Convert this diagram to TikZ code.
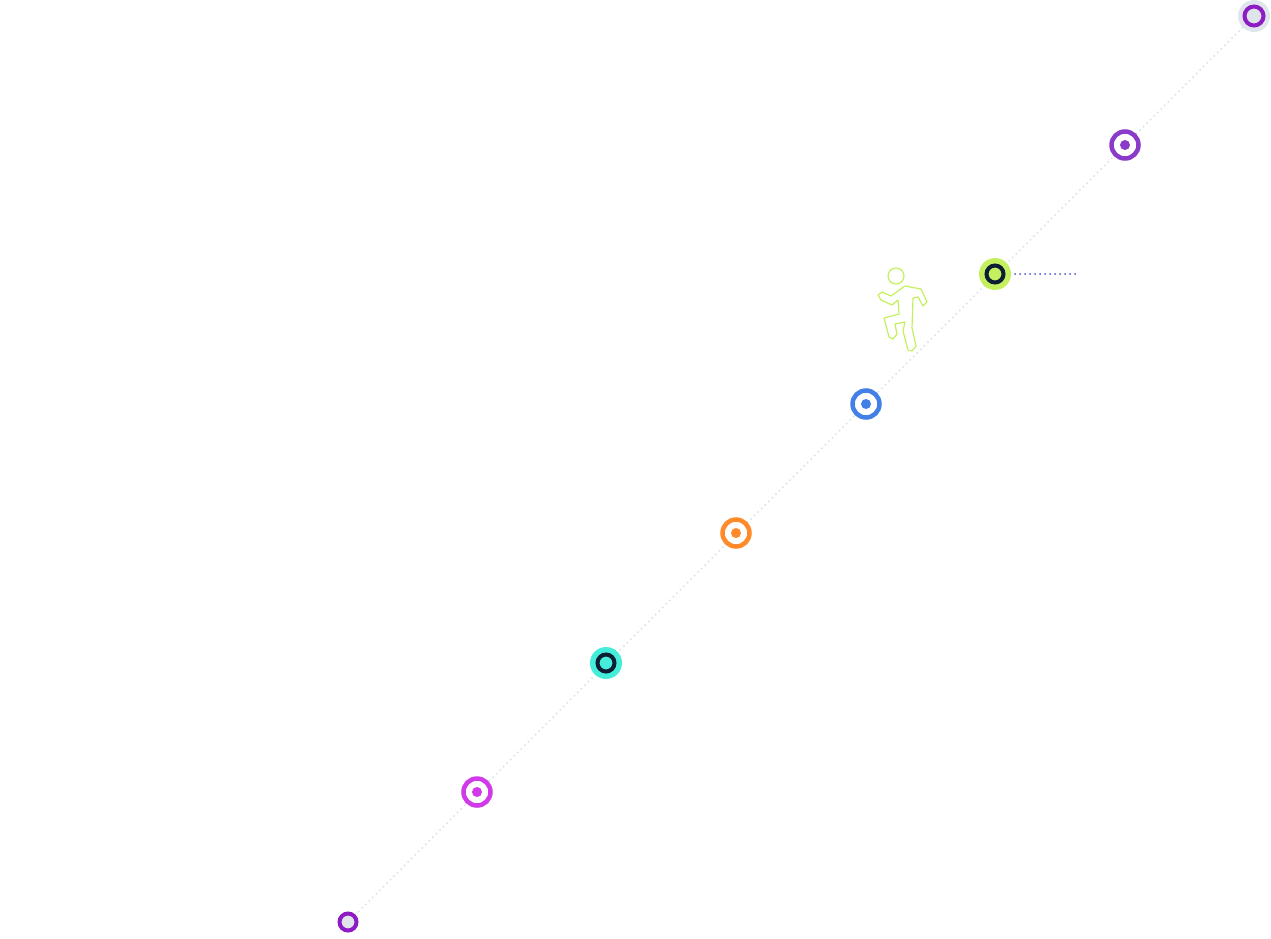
\documentclass[tikz,border=0pt]{standalone}
\usepackage{tikz}
\definecolor{trackgray}{HTML}{D8DEE3}
\definecolor{navy}{HTML}{0B1E33}
\definecolor{haze}{HTML}{DFE5EA}
\definecolor{mpurple}{HTML}{8E1CC4}
\definecolor{mpink}{HTML}{D03AE8}
\definecolor{mcyan}{HTML}{44EEDB}
\definecolor{morange}{HTML}{FF8A2A}
\definecolor{mblue}{HTML}{4280E8}
\definecolor{mgreen}{HTML}{C4F060}
\definecolor{mviolet}{HTML}{8A3CC8}
\definecolor{linkblue}{HTML}{5050D8}
\tikzset{
    track/.style={trackgray,line width=2pt,dash pattern=on 0pt off 5pt,line cap=round},
    link/.style={linkblue,line width=2pt,dash pattern=on 0pt off 5pt,line cap=round},
    ring/.style={circle,draw=#1,line width=4.5pt,fill=white,minimum size=27pt,inner sep=0pt},
    dot/.style={circle,fill=#1,minimum size=10pt,inner sep=0pt}
}
\begin{document}
\begin{tikzpicture}[x=1pt,y=-1pt]
    \useasboundingbox (0,0) rectangle (1271,938);
    % track
    \coordinate (start) at (348,922);
    \coordinate (finish) at (1254,16);
    \draw[track] (start) -- (finish);
    % markers
    \node[circle,draw=mpurple,line width=4pt,fill=haze,minimum size=17pt,inner sep=0pt] (m0) at (start) {};
    \node[ring=mpink] (m1) at (477,792) {};
    \node[dot=mpink] at (m1) {};
    \node[circle,fill=mcyan,minimum size=32pt,inner sep=0pt] (m2) at (606,663) {};
    \node[circle,draw=navy,line width=4pt,fill=mcyan,minimum size=17pt,inner sep=0pt] at (m2) {};
    \node[ring=morange] (m3) at (736,533) {};
    \node[dot=morange] at (m3) {};
    \node[ring=mblue] (m4) at (866,404) {};
    \node[dot=mblue] at (m4) {};
    \node[circle,fill=mgreen,minimum size=32pt,inner sep=0pt] (m5) at (995,274) {};
    \node[circle,draw=navy,line width=4pt,fill=mgreen,minimum size=17pt,inner sep=0pt] at (m5) {};
    \node[ring=mviolet] (m6) at (1125,145) {};
    \node[dot=mviolet] at (m6) {};
    \node[circle,fill=haze,minimum size=32pt,inner sep=0pt] (m7) at (finish) {};
    \node[circle,draw=mpurple,line width=4pt,fill=haze,minimum size=19pt,inner sep=0pt] at (m7) {};
    % side link
    \coordinate (linkend) at (1076,274);
    \draw[link] ([xshift=4pt]m5.east) -- (linkend);
    % runner
    \begin{scope}[mgreen,line width=1.2pt,line join=round]
        \draw (896,276) circle (8);
        \draw (905,286) -- (921,289) -- (927,302) -- (923,306) -- (918,297) -- (913,298)
            -- (912,328) -- (916,346) -- (912,351) -- (908,350) -- (903,331) -- (905,322)
            -- (895,324) -- (897,334) -- (893,339) -- (889,337) -- (884,318) -- (899,314)
            -- (898,300) -- (892,305) -- (881,300) -- (878,295) -- (882,292) -- (891,296) -- cycle;
    \end{scope}
\end{tikzpicture}
\end{document}
